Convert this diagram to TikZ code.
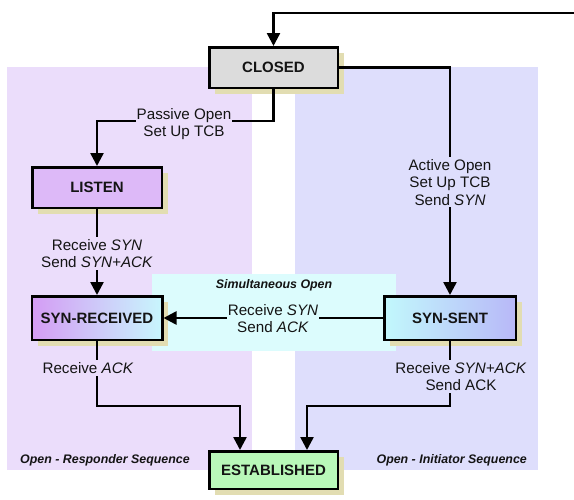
\documentclass[tikz,border=0pt]{standalone}
\usepackage{fontspec}
\setmainfont{Liberation Sans}
\usetikzlibrary{arrows.meta,shadows}
\definecolor{regP}{HTML}{EBDDFB}
\definecolor{regB}{HTML}{DEDEFC}
\definecolor{regC}{HTML}{DCFCFD}
\definecolor{shad}{HTML}{E2DDB2}
\definecolor{closedc}{HTML}{DCDCDC}
\definecolor{listenc}{HTML}{DDB9F8}
\definecolor{srL}{HTML}{D49CF4}
\definecolor{srR}{HTML}{C8F6FD}
\definecolor{ssL}{HTML}{C2F8FC}
\definecolor{ssR}{HTML}{B8B8F8}
\definecolor{estc}{HTML}{B9F8B9}
\definecolor{ink}{HTML}{141414}
\begin{document}
\begin{tikzpicture}[x=1pt,y=-1pt,
  state/.style={draw=black, line width=2.5pt, minimum width=128.5pt, minimum height=40.5pt, inner sep=0pt,
    font=\fontsize{15}{18}\selectfont\bfseries, text=ink,
    general shadow={fill=shad, shadow xshift=6pt, shadow yshift=-6pt}},
  conn/.style={draw=black, line width=2.5pt},
  arr/.style={conn, -{Triangle[length=13pt,width=13pt]}},
  lab/.style={inner xsep=1pt, inner ysep=2pt, align=center, font=\fontsize{15.2}{17.5}\selectfont, text=ink},
  region/.style={font=\fontsize{12.4}{14}\selectfont\bfseries\itshape, text=ink, inner sep=0pt},
]
\useasboundingbox (0,0) rectangle (574,499);
% background regions
\fill[regP] (7,67) rectangle (252,470);
\fill[regB] (295,67) rectangle (538,470);
\fill[regC] (152,274) rectangle (396,351);

% states
\node[state, fill=closedc] (closed) at (273.5,67.5) {CLOSED};
\node[state, fill=listenc, minimum width=129.5pt] (listen) at (97,187.5) {LISTEN};
\node[state, left color=srL, right color=srR, minimum width=130.5pt, minimum height=43.5pt] (synrec) at (97,318) {SYN-RECEIVED};
\node[state, left color=ssL, right color=ssR, minimum width=131.5pt, minimum height=43.5pt] (synsent) at (450,318) {SYN-SENT};
\node[state, fill=estc, minimum height=37.5pt] (est) at (273.5,470) {ESTABLISHED};

% helper coordinates
\coordinate (topR) at (574,13);
\coordinate (pass) at (184,121);
\coordinate (bl) at (170,406);
\coordinate (br) at (380,406);

% connectors
\draw[arr] (topR) -| (closed.north);
\draw[arr] (closed.south) |- (pass) -| (listen.north);
\draw[arr] (closed.east) -| (synsent.north);
\draw[arr] (listen.south) -- (synrec.north);
\draw[arr] (synsent.west) -- (synrec.east);
\draw[arr] (synrec.south) |- (bl) -| ([xshift=-33.5pt]est.north);
\draw[arr] (synsent.south) |- (br) -| ([xshift=33.5pt]est.north);

% labels
\node[lab, fill=regP] (l1) at (184,124) {Passive Open\\Set Up TCB};
\node[lab, fill=regB] (l2) at (450,182.4) {Active Open\\Set Up TCB\\Send \textit{SYN}};
\node[lab, fill=regP] (l3) at (97,253.7) {Receive \textit{SYN}\\Send \textit{SYN+ACK}};
\node[lab, fill=regC] (l4) at (273,318.7) {Receive \textit{SYN}\\Send \textit{ACK}};
\node[lab, fill=regP] (l5) at (88,368) {Receive \textit{ACK}};
\node[lab, fill=regB] (l6) at (461,376.7) {Receive \textit{SYN+ACK}\\Send ACK};
\node[region] (r1) at (274,285) {Simultaneous Open};
\node[region, anchor=west] (r2) at (20,460) {Open - Responder Sequence};
\node[region, anchor=east] (r3) at (527,460) {Open - Initiator Sequence};
\end{tikzpicture}
\end{document}
